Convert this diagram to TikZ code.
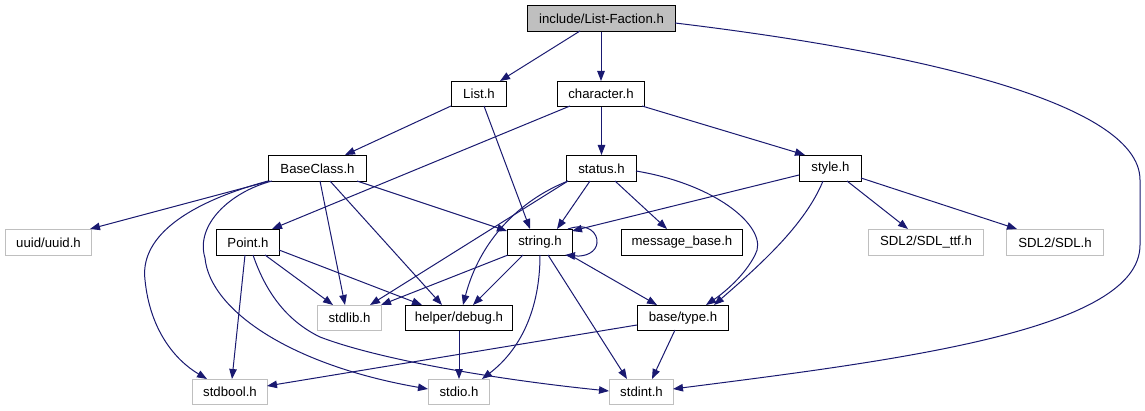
\documentclass[tikz,border=0pt]{standalone}
\usepackage{fontspec}
\setmainfont{Liberation Sans}
\usetikzlibrary{arrows.meta,calc}
\definecolor{edgeblue}{HTML}{191970}
\definecolor{boxgray}{HTML}{BFBFBF}
\tikzset{
  nbox/.style={draw=black, line width=1pt, inner sep=0pt, anchor=north west,
    font=\fontsize{13.2}{15}\selectfont, text=black},
  gbox/.style={nbox, draw=boxgray},
  dep/.style={draw=edgeblue, line width=1pt, -{Triangle[length=10pt,width=7.5pt]}},
}
\newcommand{\bx}[6]{\node[#1, minimum width=#4pt, minimum height=#5pt] (#2) at (#3) {#6};}
\begin{document}
\begin{tikzpicture}[x=1pt,y=-1pt]
\useasboundingbox (0,0) rectangle (1145,411);
% nodes
\bx{nbox,fill=boxgray}{root}{527,5}{148}{26}{include/List-Faction.h}
\bx{nbox}{List}{451,81}{55}{25}{List.h}
\bx{nbox}{character}{557,81}{87}{25}{character.h}
\bx{nbox}{BaseClass}{268,155}{98}{26}{BaseClass.h}
\bx{nbox}{status}{566,155}{70}{26}{status.h}
\bx{nbox}{style}{799,155}{62}{26}{style.h}
\bx{gbox}{uuid}{5,229}{86}{26}{uuid/uuid.h}
\bx{nbox}{Point}{216,229}{63}{26}{Point.h}
\bx{nbox}{string}{507,229}{65}{26}{string.h}
\bx{nbox}{message}{621,229}{121}{26}{message\_base.h}
\bx{gbox}{sdlttf}{868,229}{115}{26}{SDL2/SDL\_ttf.h}
\bx{gbox}{sdl}{1006,229}{97}{26}{SDL2/SDL.h}
\bx{gbox}{stdlib}{317,305}{64}{25}{stdlib.h}
\bx{nbox}{debug}{405,305}{107}{25}{helper/debug.h}
\bx{nbox}{type}{637,305}{91}{25}{base/type.h}
\bx{gbox}{stdbool}{192,379}{75}{25}{stdbool.h}
\bx{gbox}{stdio}{428,379}{61}{25}{stdio.h}
\bx{gbox}{stdint}{609,379}{64}{25}{stdint.h}
% edges
\draw[dep] ($(root.north west)+(53,26)$) -- ($(List.north west)+(49,0)$);
\draw[dep] (character.north |- root.south) -- (character.north);
\draw[dep] ($(root.north west)+(148,18)$) .. controls (900,50) and (1140,100) .. (1140,180) -- (1140,245) .. controls (1140,330) and (900,360) .. ($(stdint.north west)+(64,10)$);
\draw[dep] ($(List.north west)+(0,25)$) -- ($(BaseClass.north west)+(77,0)$);
\draw[dep] ($(List.north west)+(33,25)$) -- ($(string.north west)+(23,0)$);
\draw[dep] ($(character.north west)+(13,25)$) -- ($(Point.north west)+(56,0)$);
\draw[dep] (status.north |- character.south) -- (status.north);
\draw[dep] ($(character.north west)+(85,25)$) -- ($(style.north west)+(6,0)$);
\draw[dep] ($(BaseClass.north west)+(2,26)$) -- ($(uuid.north west)+(85,0)$);
\draw[dep] ($(BaseClass.north west)+(0,26)$) .. controls (180,205) and (140,240) .. (145,280) .. controls (150,330) and (175,360) .. ($(stdbool.north west)+(15,0)$);
\draw[dep] ($(BaseClass.north west)+(4,26)$) .. controls (230,192) and (195,225) .. (205,258) .. controls (210,310) and (290,365) .. ($(stdio.north west)+(0,10)$);
\draw[dep] ($(BaseClass.north west)+(52,26)$) -- ($(stdlib.north west)+(28,0)$);
\draw[dep] ($(BaseClass.north west)+(62,26)$) -- ($(debug.north west)+(37,0)$);
\draw[dep] ($(BaseClass.north west)+(89,26)$) -- ($(string.north west)+(0,2)$);
\draw[dep] ($(Point.north west)+(29,26)$) -- ($(stdbool.north west)+(40,0)$);
\draw[dep] ($(Point.north west)+(49,26)$) -- ($(stdlib.north west)+(16,0)$);
\draw[dep] ($(Point.north west)+(63,21)$) -- ($(debug.north west)+(17,0)$);
\draw[dep] ($(Point.north west)+(37,26)$) .. controls (265,290) and (285,320) .. (320,337) .. controls (380,360) and (500,380) .. ($(stdint.north west)+(0,12)$);
\draw[dep] ($(status.north west)+(2,26)$) -- ($(stdlib.north west)+(53,0)$);
\draw[dep] ($(status.north west)+(2,26)$) .. controls (520,200) and (480,240) .. ($(debug.north west)+(58,0)$);
\draw[dep] ($(status.north west)+(24,26)$) -- ($(string.north west)+(50,0)$);
\draw[dep] ($(status.north west)+(49,26)$) -- ($(message.north west)+(46,0)$);
\draw[dep] ($(status.north west)+(70,16)$) .. controls (720,185) and (770,230) .. (755,255) .. controls (745,275) and (725,292) .. ($(type.north west)+(69,0)$);
\draw[dep] ($(style.north west)+(0,20)$) -- ($(string.north west)+(65,2)$);
\draw[dep] ($(style.north west)+(24,26)$) .. controls (805,225) and (760,265) .. ($(type.north west)+(77,0)$);
\draw[dep] ($(style.north west)+(48,26)$) -- ($(sdlttf.north west)+(40,0)$);
\draw[dep] ($(style.north west)+(62,23)$) -- ($(sdl.north west)+(11,0)$);
\draw[dep] ($(string.north west)+(61,0)$) .. controls (588,222) and (598,233) .. (597,243) .. controls (596,252) and (586,257) .. ($(string.north west)+(58,26)$);
\draw[dep] ($(string.north west)+(1,26)$) -- ($(stdlib.north west)+(64,0)$);
\draw[dep] ($(string.north west)+(16,26)$) -- ($(debug.north west)+(68,0)$);
\draw[dep] ($(string.north west)+(63,26)$) -- ($(type.north west)+(20,0)$);
\draw[dep] ($(string.north west)+(33,26)$) .. controls (540,310) and (520,350) .. ($(stdio.north west)+(54,0)$);
\draw[dep] ($(string.north west)+(41,26)$) -- ($(stdint.north west)+(18,0)$);
\draw[dep] (debug.south) -- (stdio.north);
\draw[dep] ($(type.north west)+(0,20)$) -- ($(stdbool.north west)+(75,7)$);
\draw[dep] ($(type.north west)+(38,25)$) -- ($(stdint.north west)+(43,0)$);
\end{tikzpicture}
\end{document}
